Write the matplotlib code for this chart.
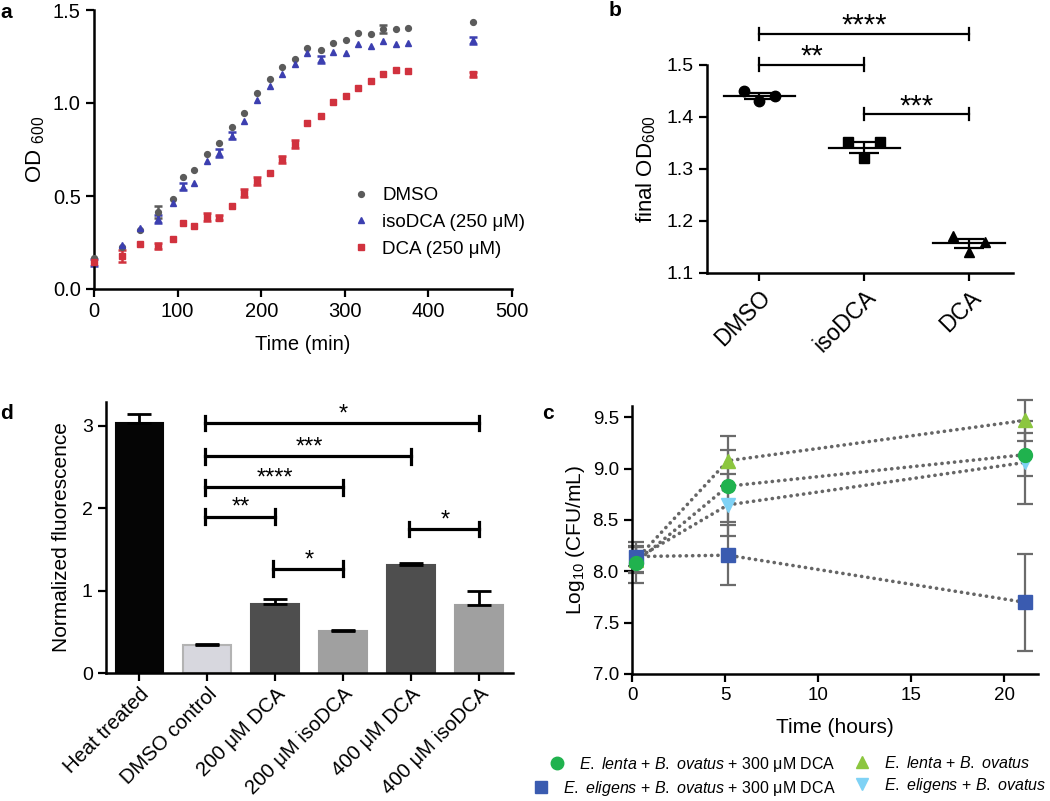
import numpy as np
import matplotlib
matplotlib.use("Agg")
import matplotlib.pyplot as plt
from matplotlib.lines import Line2D

plt.rcParams['font.family'] = ['Liberation Sans', 'DejaVu Sans']
plt.rcParams['mathtext.fontset'] = 'custom'
plt.rcParams['mathtext.rm'] = 'Liberation Sans'
plt.rcParams['mathtext.it'] = 'Liberation Sans:italic'
plt.rcParams['mathtext.bf'] = 'Liberation Sans:bold'

# ---- panel a: growth curves ----
time_min = [0, 33, 55, 76, 94, 107, 120, 135, 150, 165, 180, 195, 210, 225,
            240, 255, 272, 286, 301, 316, 331, 346, 361, 376, 453]
od_dmso = [0.168, 0.224, 0.317, 0.414, 0.484, 0.604, 0.640, 0.728, 0.787, 0.871,
           0.946, 1.056, 1.131, 1.195, 1.235, 1.297, 1.285, 1.321, 1.339, 1.375,
           1.369, 1.398, 1.396, 1.401, 1.435]
od_iso = [0.143, 0.237, 0.330, 0.376, 0.461, 0.550, 0.572, 0.686, 0.731, 0.824,
          0.903, 1.016, 1.090, 1.156, 1.208, 1.267, 1.235, 1.272, 1.271, 1.315,
          1.306, 1.333, 1.319, 1.323, 1.337]
od_dca = [0.147, 0.177, 0.244, 0.231, 0.271, 0.355, 0.339, 0.387, 0.384, 0.448,
          0.515, 0.581, 0.626, 0.697, 0.780, 0.891, 0.930, 1.008, 1.035, 1.081,
          1.118, 1.158, 1.177, 1.170, 1.154]
err_dmso = [0, 0, 0, 0.03, 0, 0, 0, 0, 0, 0, 0, 0, 0, 0, 0, 0, 0, 0, 0, 0, 0, 0.02, 0, 0, 0]
err_iso = [0.02, 0, 0, 0.02, 0, 0.02, 0, 0, 0.02, 0.02, 0, 0, 0, 0, 0, 0, 0.02, 0, 0, 0,
           0, 0, 0, 0, 0.02]
err_dca = [0, 0.03, 0, 0.015, 0, 0, 0, 0.02, 0.015, 0, 0.02, 0.02, 0, 0.02, 0.02, 0, 0,
           0, 0, 0, 0, 0, 0, 0, 0.015]

# ---- panel b: final OD ----
b_groups = ['DMSO', 'isoDCA', 'DCA']
b_dmso = [1.450, 1.430, 1.440]
b_iso = [1.351, 1.320, 1.351]
b_dca = [1.170, 1.139, 1.160]
b_pairs = [(0, 2), (0, 1), (1, 2)]
b_bracket_y = [1.559, 1.500, 1.405]
b_stars = ['****', '**', '***']

# ---- panel c: CFU ----
c_time = [0.2, 5.15, 21.1]
c_lenta_dca = [8.085, 8.829, 9.136]
c_lenta_dca_err = [0.20, 0.35, 0.21]
c_eligens_dca = [8.144, 8.157, 7.698]
c_eligens_dca_err = [0.09, 0.29, 0.47]
c_lenta = [8.11, 9.077, 9.47]
c_lenta_err = [0.13, 0.245, 0.20]
c_eligens = [8.12, 8.647, 9.06]
c_eligens_err = [0.13, 0.30, 0.40]

# ---- panel d: fluorescence ----
d_labels = ['Heat treated', 'DMSO control', '200 μM DCA', '200 μM isoDCA',
            '400 μM DCA', '400 μM isoDCA']
d_values = [3.036, 0.339, 0.836, 0.513, 1.308, 0.820]
d_errors = [0.113, 0.010, 0.065, 0.005, 0.030, 0.170]
d_pairs = [(1, 5), (1, 4), (1, 3), (1, 2), (2, 3), (4, 5)]
d_bracket_y = [3.036, 2.632, 2.253, 1.897, 1.264, 1.748]
d_stars = ['*', '***', '****', '**', '*', '*']

W, H = 1050, 801
fig = plt.figure(figsize=(W / 100, H / 100), dpi=100)


def px_axes(l, t, r, b):
    return fig.add_axes([l / W, 1 - b / H, (r - l) / W, (b - t) / H])


def style(ax, size):
    for s in ['top', 'right']:
        ax.spines[s].set_visible(False)
    for s in ['left', 'bottom']:
        ax.spines[s].set_linewidth(1.8)
    ax.tick_params(direction='out', length=6, width=1.6, labelsize=size)


# panel a
ax = px_axes(94, 10, 512, 289)
style(ax, 14.5)
cols_a = ['#5b5b5b', '#3c3fb0', '#d1323e']
marks_a = ['o', '^', 's']
sizes_a = [4.2, 4.6, 4.2]
series_a = [(od_dmso, err_dmso), (od_iso, err_iso), (od_dca, err_dca)]
t = np.array(time_min)
for (y, e), c, m, s in zip(series_a, cols_a, marks_a, sizes_a):
    y = np.array(y)
    e = np.array(e)
    k = e > 0
    ax.errorbar(t[k], y[k], yerr=e[k], fmt='none', ecolor=c, elinewidth=1.8,
                capsize=3, capthick=1.8, clip_on=False, zorder=2)
    ax.plot(t, y, ls='none', marker=m, ms=s, color=c, mec=c, clip_on=False, zorder=3)
ax.set_xlim(0, 500)
ax.set_ylim(0, 1.5)
ax.set_xticks([0, 100, 200, 300, 400, 500])
ax.set_yticks([0, 0.5, 1.0, 1.5])
ax.set_yticklabels(['0.0', '0.5', '1.0', '1.5'])
ax.set_xlabel('Time (min)', fontsize=14.5, labelpad=10)
ax.set_ylabel('OD $_{600}$', fontsize=16, labelpad=4)
handles = [Line2D([], [], ls='none', marker=m, ms=s, color=c) for c, m, s in zip(cols_a, marks_a, sizes_a)]
ax.legend(handles, ['DMSO', 'isoDCA (250 μM)', 'DCA (250 μM)'], loc='upper left',
          bbox_to_anchor=(352 / W, 1 - 187 / H), bbox_transform=fig.transFigure,
          frameon=False, fontsize=13.5, handlelength=1.0, handletextpad=0.6,
          labelspacing=0.52, borderpad=0, borderaxespad=0)
fig.text(0 / W, 1 - 12 / H, 'a', fontsize=15, fontweight='bold', va='center', ha='left')

# panel b
ax = px_axes(707, 64.7, 1013, 272.7)
style(ax, 14)
marks_b = ['o', 's', '^']
for i, (vals, m) in enumerate(zip([b_dmso, b_iso, b_dca], marks_b)):
    vals = np.array(vals)
    xs = i + np.array([-0.15, 0, 0.15])
    ax.plot(xs, vals, ls='none', marker=m, ms=7.5, color='black', zorder=3)
    mean = vals.mean()
    sem = vals.std(ddof=1) / np.sqrt(len(vals))
    ax.plot([i - 0.34, i + 0.34], [mean, mean], color='black', lw=1.6, zorder=4)
    ax.errorbar([i], [mean], yerr=[sem], fmt='none', ecolor='black', elinewidth=1.6,
                capsize=11, capthick=1.6, zorder=4)
for (i, j), yb, st in zip(b_pairs, b_bracket_y, b_stars):
    ax.plot([i, j], [yb, yb], color='black', lw=1.6, clip_on=False)
    for xx in (i, j):
        ax.plot([xx, xx], [yb - 0.012, yb + 0.012], color='black', lw=1.6, clip_on=False)
    ax.annotate(st, ((i + j) / 2, yb), xytext=(0, 0), textcoords='offset points',
                ha='center', va='baseline', fontsize=21, annotation_clip=False)
ax.set_xlim(-0.5, 2.42)
ax.set_ylim(1.1, 1.5)
ax.set_yticks([1.1, 1.2, 1.3, 1.4, 1.5])
ax.set_xticks([0, 1, 2])
ax.set_xticklabels(b_groups, rotation=45, ha='right', rotation_mode='anchor', fontsize=16.5)
ax.set_ylabel('final OD$_{600}$', fontsize=16, labelpad=6)
fig.text(609 / W, 1 - 10 / H, 'b', fontsize=15, fontweight='bold', va='center', ha='left')

# panel c
ax = px_axes(632, 406, 1038, 674)
style(ax, 13.5)
c_series = [
    (c_eligens, c_eligens_err, 'v', '#7fd2f5'),
    (c_lenta, c_lenta_err, '^', '#8cc63f'),
    (c_eligens_dca, c_eligens_dca_err, 's', '#3a5bb0'),
    (c_lenta_dca, c_lenta_dca_err, 'o', '#20b24e'),
]
for y, e, m, c in c_series:
    ax.plot(c_time, y, ls=(0, (0.05, 1.7)), color='#666666', lw=2.6,
            dash_capstyle='round', solid_capstyle='round', zorder=1, clip_on=False)
    ax.errorbar(c_time, y, yerr=e, fmt='none', ecolor='#6b6b6b', elinewidth=1.6,
                capsize=6, capthick=1.6, zorder=2, clip_on=False)
for y, e, m, c in c_series:
    ax.plot(c_time, y, ls='none', marker=m, ms=10, color=c, mec=c, zorder=3, clip_on=False)
ax.set_xlim(0, 21.8)
ax.set_ylim(7.0, 9.61)
ax.set_xticks([0, 5, 10, 15, 20])
ax.set_yticks([7.0, 7.5, 8.0, 8.5, 9.0, 9.5])
ax.set_yticklabels(['7.0', '7.5', '8.0', '8.5', '9.0', '9.5'])
ax.set_xlabel('Time (hours)', fontsize=15, labelpad=10)
ax.set_ylabel('Log$_{10}$ (CFU/mL)', fontsize=15, labelpad=4)
fig.text(542 / W, 1 - 413 / H, 'c', fontsize=15, fontweight='bold', va='center', ha='left')

lab1 = [r'$\mathit{E.\ lenta}$ + $\mathit{B.\ ovatus}$ + 300 μM DCA',
        r'$\mathit{E.\ eligens}$ + $\mathit{B.\ ovatus}$ + 300 μM DCA']
lab2 = [r'$\mathit{E.\ lenta}$ + $\mathit{B.\ ovatus}$',
        r'$\mathit{E.\ eligens}$ + $\mathit{B.\ ovatus}$']
h1 = [Line2D([], [], ls='none', marker='o', ms=9, color='#20b24e'),
      Line2D([], [], ls='none', marker='s', ms=9, color='#3a5bb0')]
h2 = [Line2D([], [], ls='none', marker='^', ms=9, color='#8cc63f'),
      Line2D([], [], ls='none', marker='v', ms=9, color='#7fd2f5')]
leg_kw = dict(frameon=False, fontsize=11.5, handlelength=1.0, handletextpad=0.9,
              labelspacing=0.3, borderpad=0, borderaxespad=0)
for row, (hh, ll) in enumerate(zip(h1, lab1)):
    fig.legend([hh], [ll], loc='upper right',
               bbox_to_anchor=(836 / W, 1 - (755 + 24 * row) / H), **leg_kw)
fig.legend(h2, lab2, loc='upper left', bbox_to_anchor=(854 / W, 1 - 755 / H), **leg_kw)

# panel d
ax = px_axes(106, 402, 513, 673)
style(ax, 14)
d_colors = ['#050505', '#d7d7de', '#4e4e4e', '#a0a0a0', '#4e4e4e', '#a0a0a0']
d_edges = ['#050505', '#b3b3b3', '#4e4e4e', '#a0a0a0', '#4e4e4e', '#a0a0a0']
xd = np.arange(len(d_values))
ax.bar(xd, d_values, width=0.7, color=d_colors, edgecolor=d_edges, linewidth=1.5, zorder=2)
ax.errorbar(xd, d_values, yerr=[np.zeros(len(d_errors)), d_errors], fmt='none',
            ecolor='black', elinewidth=2, capsize=8.5, capthick=2, zorder=3)
for (i, j), yb, st in zip(d_pairs, d_bracket_y, d_stars):
    ax.plot([i - 0.03, j], [yb, yb], color='black', lw=2.3, clip_on=False)
    for xx in (i - 0.03, j):
        ax.plot([xx, xx], [yb - 0.09, yb + 0.09], color='black', lw=2.3, clip_on=False)
    ax.annotate(st, ((i + j) / 2, yb), xytext=(0, 2), textcoords='offset points',
                ha='center', va='baseline', fontsize=17, annotation_clip=False)
ax.set_xlim(-0.49, 5.5)
ax.set_ylim(0, 3.29)
ax.set_yticks([0, 1, 2, 3])
ax.set_xticks(xd)
ax.set_xticklabels(d_labels, rotation=45, ha='right', rotation_mode='anchor', fontsize=14.6)
ax.tick_params(axis='x', pad=2)
ax.set_ylabel('Normalized fluorescence', fontsize=15, labelpad=8)
fig.text(0 / W, 1 - 413 / H, 'd', fontsize=15, fontweight='bold', va='center', ha='left')

fig.savefig('out.png', dpi=100)
